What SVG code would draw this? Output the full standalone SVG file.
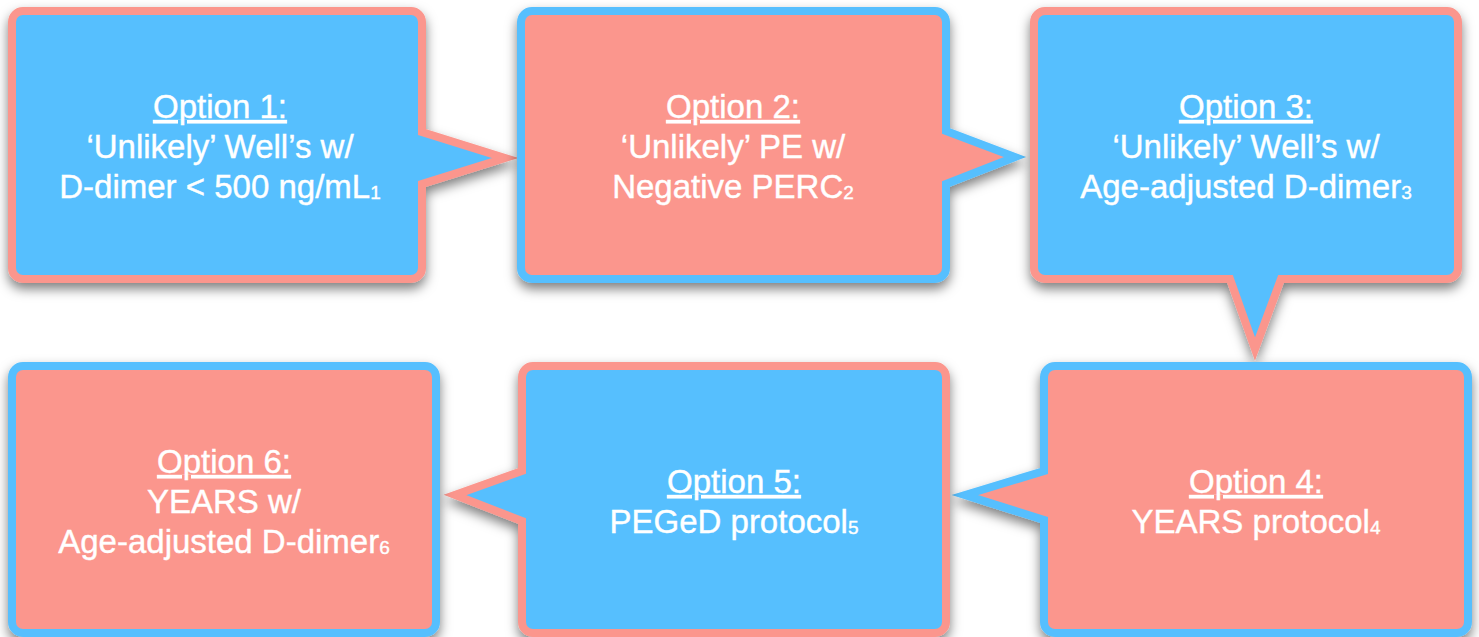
<svg xmlns="http://www.w3.org/2000/svg" width="1479" height="637" viewBox="0 0 1479 637">
  <defs>
    <filter id="sh" x="-10%" y="-10%" width="120%" height="130%">
      <feDropShadow dx="0" dy="6" stdDeviation="6" flood-color="#000" flood-opacity="0.5"/>
    </filter>
    <style>
      .b { fill: #57BFFE; stroke: #FB968D; stroke-width: 8; stroke-linejoin: miter; stroke-miterlimit: 6; filter: url(#sh); }
      .p { fill: #FB968D; stroke: #57BFFE; stroke-width: 8; stroke-linejoin: miter; stroke-miterlimit: 6; filter: url(#sh); }
      text { font-family: "Liberation Sans", Arial, sans-serif; font-size: 33px; fill: #ffffff; stroke: #ffffff; stroke-width: 0.4; text-anchor: middle; }
      .u { text-decoration: underline; }
      .s { font-size: 19px; }
    </style>
  </defs>
  <rect width="1479" height="637" fill="#ffffff"/>
  <g id="connectors"></g>

  <g id="node1">
    <path class="b" d="M23,11 H411 A11,11 0 0 1 422,22 V132 L505,158 L422,184 V268 A11,11 0 0 1 411,279 H23 A11,11 0 0 1 12,268 V22 A11,11 0 0 1 23,11 Z"/>
    <text x="220" y="118" class="u">Option 1:</text>
    <text x="220" y="158">‘Unlikely’ Well’s w/</text>
    <text x="220" y="198">D-dimer &lt; 500 ng/mL<tspan class="s" dy="1">1</tspan></text>
  </g>

  <g id="node2">
    <path class="p" d="M532,11 H935 A11,11 0 0 1 946,22 V131 L1015,157 L946,184 V268 A11,11 0 0 1 935,279 H532 A11,11 0 0 1 521,268 V22 A11,11 0 0 1 532,11 Z"/>
    <text x="733" y="118" class="u">Option 2:</text>
    <text x="733" y="158">‘Unlikely’ PE w/</text>
    <text x="733" y="198">Negative PERC<tspan class="s" dy="1">2</tspan></text>
  </g>

  <g id="node3">
    <path class="b" d="M1045,11 H1447 A11,11 0 0 1 1458,22 V268 A11,11 0 0 1 1447,279 H1281 L1255,349 L1230,279 H1045 A11,11 0 0 1 1034,268 V22 A11,11 0 0 1 1045,11 Z"/>
    <text x="1246" y="118" class="u">Option 3:</text>
    <text x="1246" y="158">‘Unlikely’ Well’s w/</text>
    <text x="1246" y="198">Age-adjusted D-dimer<tspan class="s" dy="1">3</tspan></text>
  </g>

  <g id="node4">
    <path class="p" d="M1055,366 H1457 A11,11 0 0 1 1468,377 V622 A11,11 0 0 1 1457,633 H1055 A11,11 0 0 1 1044,622 V520 L965,495 L1044,471 V377 A11,11 0 0 1 1055,366 Z"/>
    <text x="1256" y="493" class="u">Option 4:</text>
    <text x="1256" y="533">YEARS protocol<tspan class="s" dy="1">4</tspan></text>
  </g>

  <g id="node5">
    <path class="b" d="M533,366 H935 A11,11 0 0 1 946,377 V622 A11,11 0 0 1 935,633 H533 A11,11 0 0 1 522,622 V521 L455,495 L522,471 V377 A11,11 0 0 1 533,366 Z"/>
    <text x="734" y="493" class="u">Option 5:</text>
    <text x="734" y="533">PEGeD protocol<tspan class="s" dy="1">5</tspan></text>
  </g>

  <g id="node6">
    <path class="p" d="M23,366 H425 A11,11 0 0 1 436,377 V622 A11,11 0 0 1 425,633 H23 A11,11 0 0 1 12,622 V377 A11,11 0 0 1 23,366 Z"/>
    <text x="224" y="473" class="u">Option 6:</text>
    <text x="224" y="513">YEARS w/</text>
    <text x="224" y="553">Age-adjusted D-dimer<tspan class="s" dy="1">6</tspan></text>
  </g>
</svg>
